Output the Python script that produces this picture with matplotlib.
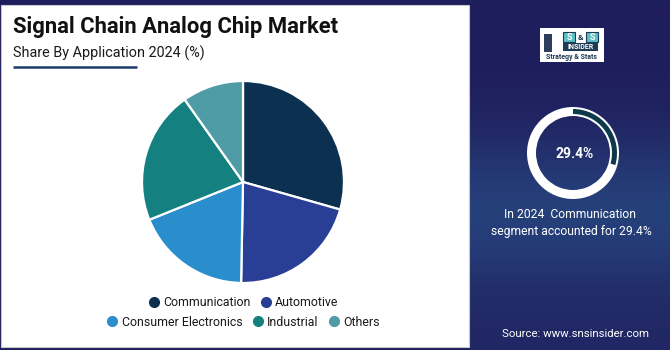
import numpy as np
import matplotlib
matplotlib.use("Agg")
import matplotlib.pyplot as plt
from matplotlib.patches import Rectangle, Wedge
from matplotlib.lines import Line2D

plt.rcParams['font.family'] = ['Roboto', 'DejaVu Sans']

# Market share by application, 2024 (%)
categories = ["Communication", "Automotive", "Consumer Electronics", "Industrial", "Others"]
shares = [29.4, 20.9, 18.6, 21.3, 9.8]
colors = ["#0c3150", "#283f95", "#2a8dcc", "#158080", "#4f9ba6"]

title = "Signal Chain Analog Chip Market"
subtitle = "Share By Application 2024 (%)"
highlight_year = "2024"
source_text = "Source: www.snsinsider.com"

W, H = 670, 350
fig = plt.figure(figsize=(W / 100, H / 100), dpi=100)
fig.patch.set_facecolor("#1f1e5c")

# full-figure canvas in pixel coordinates
bg = fig.add_axes([0, 0, 1, 1])
bg.set_xlim(0, W)
bg.set_ylim(H, 0)
bg.axis("off")

# right panel gradient
grad = np.array([[0.0], [0.0], [0.1], [0.5], [1.0], [0.9], [0.45], [0.25]])
c_top = np.array([0x1f, 0x1e, 0x5c]) / 255
c_mid = np.array([0x26, 0x42, 0x7c]) / 255
img = c_top + grad[:, :, None] * (c_mid - c_top)
bg.imshow(img, extent=[468, W, H, 0], aspect="auto", interpolation="bicubic", zorder=0)

# white content panel
bg.add_patch(Rectangle((1, 5), 468, 342, facecolor="white", edgecolor="#c8c8c8", lw=0.8, zorder=1))

bg.text(13, 27, title, fontsize=15.8, fontweight="bold", color="#111111", va="center", ha="left", zorder=3)
bg.text(13, 53, subtitle, fontsize=10.4, color="#1a1a1a", va="center", ha="left", zorder=3)
bg.plot([13, 137], [67, 67], color="#1d3c6c", lw=1.8, solid_capstyle="butt", zorder=3)

# pie
cx, cy, r = 243, 182, 102
pax = fig.add_axes([(cx - r) / W, 1 - (cy + r) / H, 2 * r / W, 2 * r / H])
wedges, _ = pax.pie(shares, colors=colors, startangle=90, counterclock=False,
                    wedgeprops=dict(edgecolor="white", linewidth=1.6))
pax.set_xlim(-1.01, 1.01)
pax.set_ylim(-1.01, 1.01)
pax.set_aspect("equal")

# legend in two centered rows
def legend_row(idx, y):
    handles = [Line2D([], [], marker="o", ls="", markersize=7, color=colors[i]) for i in idx]
    leg = fig.legend(handles, [categories[i] for i in idx], loc="center",
                     bbox_to_anchor=(cx / W, 1 - y / H), ncol=len(idx), frameon=False,
                     fontsize=8.9, handletextpad=0.25, columnspacing=0.75, handlelength=1.0,
                     borderpad=0, borderaxespad=0)
    for t in leg.get_texts():
        t.set_color("#1a1a1a")
    return leg

legend_row([0, 1], 303)
legend_row([2, 3, 4], 322)

# logo
lx, ly = 540, 28
bg.add_patch(Rectangle((lx, ly), 64, 34, facecolor="white", edgecolor="none", zorder=3))
bg.add_patch(Rectangle((lx + 4, ly + 6), 8, 18, facecolor="#2d3e5c", edgecolor="none", zorder=4))
bg.add_patch(Rectangle((lx + 23, ly + 4), 12, 10, facecolor="#5cc0c4", edgecolor="#1f3a55", lw=0.8, zorder=4))
bg.add_patch(Rectangle((lx + 46, ly + 4), 12, 10, facecolor="#5cc0c4", edgecolor="#1f3a55", lw=0.8, zorder=4))
bg.text(lx + 29, ly + 9, "S", fontsize=6.5, fontweight="bold", color="white", ha="center", va="center", zorder=5)
bg.text(lx + 40.5, ly + 9, "&", fontsize=6, fontweight="bold", color="#1f3a55", ha="center", va="center", zorder=5)
bg.text(lx + 52, ly + 9, "S", fontsize=6.5, fontweight="bold", color="white", ha="center", va="center", zorder=5)
bg.add_patch(Rectangle((lx + 23, ly + 15), 35, 8, facecolor="#1f3a55", edgecolor="none", zorder=4))
bg.text(lx + 40.5, ly + 19.3, "INSIDER", fontsize=5, fontweight="bold", color="white", ha="center", va="center", zorder=5)
bg.text(lx + 32, ly + 29, "Strategy & Stats", fontsize=5, fontweight="bold", color="#1f3a55", ha="center", va="center", zorder=5)

# highlight ring for the leading segment
dx, dy, ro = 573, 153, 46
lead = shares[0]
bg.add_patch(Wedge((dx, dy), ro, 0, 360, width=9, facecolor="white", edgecolor="none", zorder=3))
theta_start = 90 - 360 * lead / 100
bg.add_patch(Wedge((dx, dy), ro - 2, -90, -theta_start, width=5,
                   facecolor="#0d3a4a", edgecolor="none", zorder=4))
bg.text(dx + 2, dy + 1, f"{lead}%", fontsize=10, fontweight="bold", color="white", ha="center", va="center", zorder=4)

bg.text(dx - 3, 215, f"In {highlight_year}  {categories[0]}", fontsize=8.7, color="white", ha="center", va="center", zorder=4)
bg.text(dx - 2, 232, f"segment accounted for {lead}%", fontsize=8.7, color="white", ha="center", va="center", zorder=4)
bg.text(dx + 2, 334, source_text, fontsize=8.2, color="white", ha="center", va="center", zorder=4)

fig.savefig("out.png", dpi=100, facecolor=fig.get_facecolor())
